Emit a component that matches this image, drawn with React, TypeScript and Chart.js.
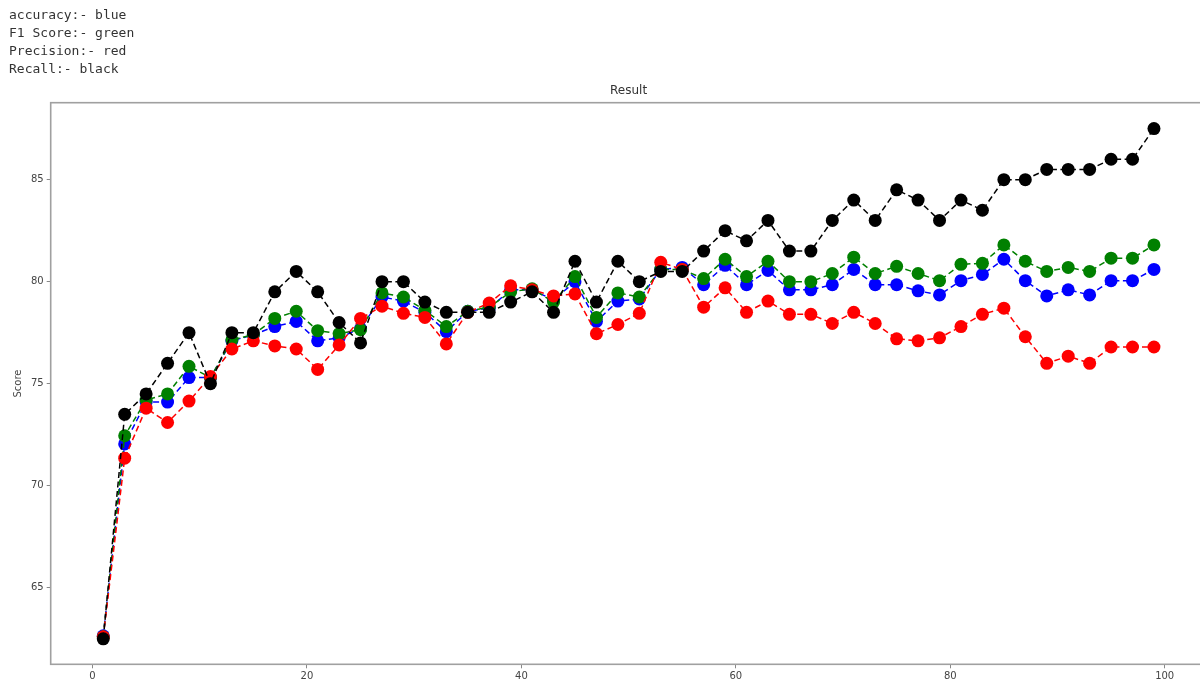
import React, { useEffect, useRef } from "react";
import { Chart, registerables } from "chart.js";

Chart.register(...registerables);

const xValues = [1,3,5,7,9,11,13,15,17,19,21,23,25,27,29,31,33,35,37,39,41,43,45,47,49,51,53,55,57,59,61,63,65,67,69,71,73,75,77,79,81,83,85,87,89,91,93,95,97,99];

const accuracy = [62.65,72.05,74.1,74.1,75.3,75.3,77.1,77.4,77.8,78.05,77.1,77.25,77.7,79.25,79.05,78.5,77.55,78.55,78.7,79.6,79.6,79.1,80.0,78.05,79.05,79.15,80.6,80.7,79.85,80.8,79.85,80.55,79.6,79.6,79.85,80.6,79.85,79.85,79.55,79.35,80.05,80.35,81.1,80.05,79.3,79.6,79.35,80.05,80.05,80.6];

const f1Score = [62.6,72.45,74.2,74.5,75.85,75.3,77.15,77.4,78.2,78.55,77.6,77.45,77.65,79.45,79.25,78.6,77.8,78.55,78.75,79.5,79.65,79.0,80.25,78.25,79.45,79.25,80.6,80.6,80.15,81.1,80.25,81.0,80.0,80.0,80.4,81.2,80.4,80.75,80.4,80.05,80.85,80.9,81.8,81.0,80.5,80.7,80.5,81.15,81.15,81.8];

const precision = [62.6,71.35,73.8,73.1,74.15,75.35,76.7,77.1,76.85,76.7,75.7,76.9,78.2,78.8,78.45,78.25,76.95,78.5,78.95,79.8,79.6,79.3,79.4,77.45,77.9,78.45,80.95,80.6,78.75,79.7,78.5,79.05,78.4,78.4,77.95,78.5,77.95,77.2,77.1,77.25,77.8,78.4,78.7,77.3,76.0,76.35,76.0,76.8,76.8,76.8];

const recall = [62.5,73.5,74.5,76.0,77.5,75.0,77.5,77.5,79.5,80.5,79.5,78.0,77.0,80.0,80.0,79.0,78.5,78.5,78.5,79.0,79.5,78.5,81.0,79.0,81.0,80.0,80.5,80.5,81.5,82.5,82.0,83.0,81.5,81.5,83.0,84.0,83.0,84.5,84.0,83.0,84.0,83.5,85.0,85.0,85.5,85.5,85.5,86.0,86.0,87.5];

const xTicks = [0, 20, 40, 60, 80, 100];
const yTicks = [65, 70, 75, 80, 85];

const chartTitle = "Result";

const headerLines = [
  "accuracy:- blue",
  "F1 Score:- green",
  "Precision:- red",
  "Recall:- black",
];

const seriesDefs = [
  { label: "accuracy", data: accuracy, color: "#0000ff", order: 4 },
  { label: "F1 Score", data: f1Score, color: "#008000", order: 3 },
  { label: "Precision", data: precision, color: "#ff0000", order: 2 },
  { label: "Recall", data: recall, color: "#000000", order: 1 },
];

const framePlugin = {
  id: "frame",
  afterDatasetsDraw(chart: any) {
    const { ctx, chartArea } = chart;
    ctx.save();
    ctx.strokeStyle = "#a0a0a0";
    ctx.lineWidth = 1.6;
    ctx.strokeRect(chartArea.left, chartArea.top, chartArea.right - chartArea.left, chartArea.bottom - chartArea.top);
    ctx.fillStyle = "#333";
    ctx.font = "12px 'DejaVu Sans', sans-serif";
    ctx.textAlign = "center";
    ctx.textBaseline = "middle";
    ctx.fillText(chartTitle, (chartArea.left + chartArea.right) / 2, chartArea.top - 11.5);
    ctx.restore();
  },
};

export default function App() {
  const canvasRef = useRef<HTMLCanvasElement | null>(null);

  useEffect(() => {
    if (!canvasRef.current) return;
    const chart = new Chart(canvasRef.current, {
      type: "line",
      data: {
        datasets: seriesDefs.map((s) => ({
          label: s.label,
          data: xValues.map((x, i) => ({ x, y: s.data[i] })),
          borderColor: s.color,
          backgroundColor: s.color,
          pointBackgroundColor: s.color,
          pointBorderColor: s.color,
          pointBorderWidth: 0,
          pointRadius: 6.5,
          borderWidth: 1.5,
          borderDash: [6, 3.5],
          tension: 0,
          fill: false,
          order: s.order,
        })),
      },
      options: {
        responsive: false,
        animation: false,
        layout: { padding: { top: 102.7, left: 0, right: 0, bottom: 0 } },
        plugins: {
          legend: { display: false },
          tooltip: { enabled: false },
          title: { display: false },
        },
        scales: {
          x: {
            type: "linear",
            min: -3.9,
            max: 103.9,
            afterBuildTicks: (scale: any) => {
              scale.ticks = xTicks.map((v) => ({ value: v }));
            },
            afterFit: (scale: any) => {
              scale.height = 19.7;
            },
            border: { display: false },
            grid: { drawOnChartArea: false, drawTicks: true, tickLength: 4, color: "#888" },
            ticks: {
              autoSkip: false,
              maxRotation: 0,
              padding: 2,
              color: "#444",
              font: { family: "'DejaVu Sans', sans-serif", size: 10 },
            },
          },
          y: {
            type: "linear",
            min: 61.25,
            max: 88.77,
            afterBuildTicks: (scale: any) => {
              scale.ticks = yTicks.map((v) => ({ value: v }));
            },
            afterFit: (scale: any) => {
              scale.width = 50.7;
            },
            border: { display: false },
            grid: { drawOnChartArea: false, drawTicks: true, tickLength: 4, color: "#888" },
            ticks: {
              padding: 3,
              color: "#444",
              font: { family: "'DejaVu Sans', sans-serif", size: 10 },
            },
            title: {
              display: true,
              text: "Score",
              color: "#444",
              font: { family: "'DejaVu Sans', sans-serif", size: 10 },
              padding: { top: 12, bottom: 0 },
            },
          },
        },
      },
      plugins: [framePlugin],
    } as any);
    return () => chart.destroy();
  }, []);

  return (
    <div
      style={{
        position: "fixed",
        left: 0,
        top: 0,
        width: 1200,
        height: 684,
        overflow: "hidden",
        background: "#fff",
      }}
    >
      <canvas
        ref={canvasRef}
        width={1213}
        height={684}
        style={{ position: "absolute", left: 0, top: 0, width: 1213, height: 684, display: "block" }}
      />
      <div
        style={{
          position: "absolute",
          left: 9,
          top: 5.5,
          fontFamily: "'DejaVu Sans Mono', monospace",
          fontSize: 13,
          lineHeight: "18.3px",
          color: "#333",
          whiteSpace: "pre",
        }}
      >
        {headerLines.map((l) => (
          <div key={l}>{l}</div>
        ))}
      </div>
    </div>
  );
}
